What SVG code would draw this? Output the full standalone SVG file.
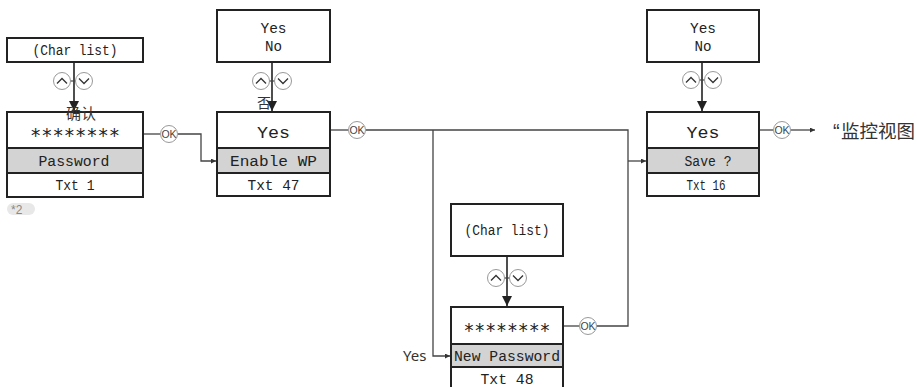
<svg xmlns="http://www.w3.org/2000/svg" width="917" height="387" viewBox="0 0 917 387">
<defs>
<style>
.box{fill:#fff;stroke:#222;stroke-width:2}
.gray{fill:#d3d3d3;stroke:#222;stroke-width:2}
.lcd{font-family:"Liberation Mono","DejaVu Sans Mono",monospace;fill:#222;text-anchor:middle}
.ast{font-family:"DejaVu Sans Mono","Liberation Mono",monospace;fill:#222;text-anchor:middle;font-size:19px}
.v{font-size:17px}
.l{font-size:14.5px}
.t{font-size:14.5px}
.con{fill:none;stroke:#444;stroke-width:1.3}
.varr{fill:none;stroke:#222;stroke-width:1.6}
.btn{fill:#fff;stroke:#999;stroke-width:1}
.chev{fill:none;stroke:#333;stroke-width:1.3}
.ok{font-family:"Liberation Sans",Arial,sans-serif;font-size:10.5px;fill:#444;text-anchor:middle}
.cjk{font-family:"Noto Sans CJK SC","Noto Sans",sans-serif;fill:#333}
</style>
<marker id="big" viewBox="0 0 10 10" refX="10" refY="5" markerWidth="10" markerHeight="12" markerUnits="userSpaceOnUse" orient="auto"><path d="M0,0 L10,5 L0,10 Z" fill="#222"/></marker>
<marker id="sm" viewBox="0 0 10 10" refX="10" refY="5" markerWidth="6" markerHeight="5" markerUnits="userSpaceOnUse" orient="auto"><path d="M0,0 L10,5 L0,10 Z" fill="#333"/></marker>
<g id="updown">
<line x1="-3" y1="0" x2="3" y2="0" stroke="#444" stroke-width="1.2"/>
<circle class="btn" cx="-11" cy="0" r="8.5"/>
<polyline class="chev" points="-16,2.5 -11,-2.5 -6,2.5"/>
<circle class="btn" cx="11" cy="0" r="8.5"/>
<polyline class="chev" points="6,-2.5 11,2.5 16,-2.5"/>
</g>
<g id="okb">
<circle class="btn" cx="0" cy="0" r="8.5"/>
<text class="ok" x="0" y="3.8">OK</text>
</g>
</defs>

<g id="connectors">
<line class="varr" x1="74" y1="62" x2="74" y2="111" marker-end="url(#big)"/>
<line class="varr" x1="272" y1="62" x2="272" y2="111" marker-end="url(#big)"/>
<line class="varr" x1="702" y1="62" x2="702" y2="111" marker-end="url(#big)"/>
<line class="varr" x1="507" y1="256" x2="507" y2="306" marker-end="url(#big)"/>
<use href="#updown" x="73" y="81"/>
<use href="#updown" x="272" y="81"/>
<use href="#updown" x="702" y="80"/>
<use href="#updown" x="507" y="278"/>
<line class="con" x1="143" y1="134" x2="160" y2="134"/>
<polyline class="con" points="178,134 201,134 201,161 216,161" marker-end="url(#sm)"/>
<use href="#okb" x="169" y="134"/>
<line class="con" x1="330" y1="130" x2="348" y2="130"/>
<polyline class="con" points="366,130 628,130 628,326 597,326"/>
<polyline class="con" points="433,130 433,356 450,356" marker-end="url(#sm)"/>
<line class="con" x1="628" y1="161" x2="646" y2="161" marker-end="url(#sm)"/>
<use href="#okb" x="357" y="130"/>
<line class="con" x1="563" y1="326" x2="579" y2="326"/>
<use href="#okb" x="588" y="326"/>
<line class="con" x1="759" y1="130" x2="773" y2="130"/>
<line class="con" x1="791" y1="130" x2="815" y2="130" marker-end="url(#sm)"/>
<use href="#okb" x="782" y="130"/>
</g>

<g id="node-charlist1">
<rect class="box" x="7" y="38" width="136" height="24"/>
<text class="lcd l" x="75" y="55" textLength="85" lengthAdjust="spacingAndGlyphs">(Char list)</text>
</g>

<g id="node-password">
<rect class="box" x="7" y="112" width="136" height="85"/>
<rect class="gray" x="7" y="148" width="136" height="25"/>
<text class="ast" x="75" y="142" textLength="90" lengthAdjust="spacingAndGlyphs">********</text>
<text class="lcd l" x="74" y="166" textLength="71" lengthAdjust="spacingAndGlyphs">Password</text>
<text class="lcd t" x="75" y="190" textLength="39" lengthAdjust="spacingAndGlyphs">Txt 1</text>
<text class="cjk" x="81" y="119" font-size="15" text-anchor="middle">确认</text>
</g>

<g id="note-2">
<rect x="7" y="203" width="28" height="12" rx="6" fill="#e8e8e8"/>
<text x="11" y="214" font-family="Liberation Sans,Arial,sans-serif" font-size="12" fill="#888">*2</text>
</g>

<g id="node-yesno1">
<rect class="box" x="217" y="10" width="113" height="52"/>
<text class="lcd l" x="273.5" y="33" textLength="26" lengthAdjust="spacingAndGlyphs">Yes</text>
<text class="lcd l" x="273.5" y="51" textLength="17" lengthAdjust="spacingAndGlyphs">No</text>
</g>

<g id="node-enablewp">
<rect class="box" x="217" y="112" width="113" height="84"/>
<rect class="gray" x="217" y="148" width="113" height="25"/>
<text class="lcd v" x="273.5" y="138" textLength="33" lengthAdjust="spacingAndGlyphs">Yes</text>
<text class="lcd l" x="273.5" y="166" textLength="87" lengthAdjust="spacingAndGlyphs">Enable WP</text>
<text class="lcd t" x="273.5" y="190" textLength="52" lengthAdjust="spacingAndGlyphs">Txt 47</text>
<text class="cjk" x="264" y="108" font-size="14" text-anchor="middle">否</text>
</g>

<g id="node-yesno2">
<rect class="box" x="647" y="10" width="112" height="52"/>
<text class="lcd l" x="703" y="33" textLength="26" lengthAdjust="spacingAndGlyphs">Yes</text>
<text class="lcd l" x="703" y="51" textLength="17" lengthAdjust="spacingAndGlyphs">No</text>
</g>

<g id="node-save">
<rect class="box" x="647" y="112" width="112" height="84"/>
<rect class="gray" x="647" y="148" width="112" height="25"/>
<text class="lcd v" x="703" y="138" textLength="33" lengthAdjust="spacingAndGlyphs">Yes</text>
<text class="lcd l" x="708" y="166" textLength="47" lengthAdjust="spacingAndGlyphs">Save ?</text>
<text class="lcd t" x="706" y="190" textLength="39" lengthAdjust="spacingAndGlyphs">Txt 16</text>
</g>

<g id="monitor-view">
<text class="cjk" x="833" y="138" font-size="18.5"><tspan font-family="Liberation Sans,Arial,sans-serif" font-size="20">“</tspan><tspan x="841">监控视图</tspan></text>
</g>

<g id="node-charlist2">
<rect class="box" x="451" y="204" width="112" height="52"/>
<text class="lcd l" x="507" y="235" textLength="85" lengthAdjust="spacingAndGlyphs">(Char list)</text>
</g>

<g id="node-newpassword">
<rect class="box" x="451" y="307" width="112" height="90"/>
<rect class="gray" x="451" y="344" width="112" height="23"/>
<text class="ast" x="507" y="337" textLength="87" lengthAdjust="spacingAndGlyphs">********</text>
<text class="lcd l" x="507" y="361" textLength="106" lengthAdjust="spacingAndGlyphs">New Password</text>
<text class="lcd t" x="507" y="384" textLength="53" lengthAdjust="spacingAndGlyphs">Txt 48</text>
</g>

<g id="label-yes">
<text x="403" y="361" font-family="Noto Sans,Open Sans,sans-serif" font-size="15" fill="#333">Yes</text>
</g>
</svg>
